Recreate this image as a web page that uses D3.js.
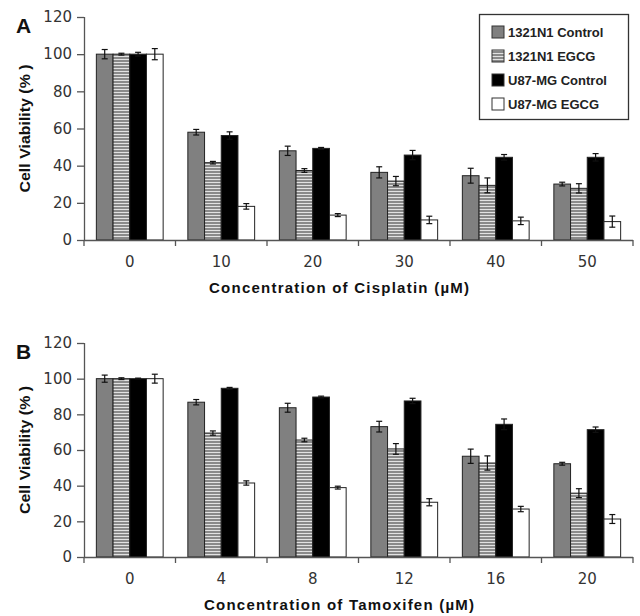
<!DOCTYPE html>
<html><head><meta charset="utf-8">
<script src="https://cdn.jsdelivr.net/npm/d3@7"></script>
<style>body{margin:0;background:#fff}svg{display:block}</style>
</head><body>
<svg id="c" width="640" height="616"></svg>
<script>
const series = ["1321N1 Control", "1321N1 EGCG", "U87-MG Control", "U87-MG EGCG"];
const yTicks = [0, 20, 40, 60, 80, 100, 120];

// Panel A – Cisplatin
const catsA = ["0", "10", "20", "30", "40", "50"];
const ctrl1321A = [100, 58, 48, 36.4, 34.6, 30.1];
const egcg1321A = [100, 41.6, 37.4, 31.7, 29.4, 27.8];
const ctrlU87A  = [100, 56.2, 49.3, 45.7, 44.5, 44.5];
const egcgU87A  = [100, 18.1, 13.4, 10.8, 10.3, 9.9];
const errCtrl1321A = [2.5, 1.5, 2.5, 3, 4, 1];
const errEgcg1321A = [0.5, 0.7, 1, 2.5, 4, 2.5];
const errCtrlU87A  = [1, 2, 0.5, 2.5, 1.5, 2];
const errEgcgU87A  = [3, 1.5, 0.8, 2, 2, 3];

// Panel B – Tamoxifen
const catsB = ["0", "4", "8", "12", "16", "20"];
const ctrl1321B = [100, 86.8, 83.7, 73.1, 56.5, 52.3];
const egcg1321B = [100, 69.5, 65.6, 60.6, 52.7, 35.8];
const ctrlU87B  = [100, 94.6, 89.7, 87.5, 74.4, 71.4];
const egcgU87B  = [100, 41.5, 38.9, 30.7, 26.9, 21.3];
const errCtrl1321B = [2, 1.5, 2.5, 3, 4, 0.8];
const errEgcg1321B = [0.5, 1.2, 1, 3, 4, 2.5];
const errCtrlU87B  = [0.3, 0.5, 0.5, 1.5, 3, 1.5];
const errEgcgU87B  = [2.5, 1.2, 0.8, 2, 1.5, 2.5];

const svg = d3.select("#c");
const defs = svg.append("defs");
const pat = defs.append("pattern").attr("id", "stripe")
  .attr("patternUnits", "userSpaceOnUse").attr("width", 4).attr("height", 3);
pat.append("rect").attr("width", 4).attr("height", 3).attr("fill", "#e2e2e2");
pat.append("rect").attr("width", 4).attr("height", 2).attr("fill", "#8a8a8a");

const fills = ["#808080", "url(#stripe)", "#000000", "#ffffff"];
const axisColor = "#555";
const tickFont = "'DejaVu Sans', sans-serif";
const boldFont = "'Liberation Sans', Arial, sans-serif";

function panel(cfg) {
  const left = 84, right = 633;
  const { top, bottom, cats, vals, errs, letter, title, titleLen } = cfg;
  const x = d3.scaleBand().domain(cats).range([left, right]).paddingInner(0.27).paddingOuter(0.135);
  const xs = d3.scaleBand().domain(series).range([0, x.bandwidth()]).padding(0);
  const y = d3.scaleLinear().domain([0, 120]).range([bottom, top]);
  const g = svg.append("g");

  cats.forEach((c, i) => {
    series.forEach((s, j) => {
      const v = vals[j][i], e = errs[j][i];
      const bx = x(c) + xs(s), bw = xs.bandwidth();
      g.append("rect").attr("x", bx).attr("y", y(v))
        .attr("width", bw).attr("height", y(0) - y(v))
        .attr("fill", fills[j]).attr("stroke", "#222").attr("stroke-width", 1);
      const cx = bx + bw / 2;
      const eg = g.append("g").attr("stroke", "#111").attr("stroke-width", 1.2);
      eg.append("line").attr("x1", cx).attr("x2", cx).attr("y1", y(v + e)).attr("y2", y(v - e));
      eg.append("line").attr("x1", cx - 3).attr("x2", cx + 3).attr("y1", y(v + e)).attr("y2", y(v + e));
      eg.append("line").attr("x1", cx - 3).attr("x2", cx + 3).attr("y1", y(v - e)).attr("y2", y(v - e));
    });
  });

  const ya = g.append("g").attr("transform", `translate(${left},0)`)
    .call(d3.axisLeft(y).tickValues(yTicks).tickSize(7).tickPadding(5));
  ya.selectAll("path,line").attr("stroke", axisColor).attr("stroke-width", 1.3);
  ya.select("path").attr("d", `M0.5,${top}V${bottom}`);
  ya.selectAll("text").attr("font-family", tickFont).attr("font-size", 15).attr("fill", "#333");

  const bounds = d3.range(cats.length + 1).map(i => left + i * (right - left) / cats.length);
  const xa = g.append("g");
  xa.append("line").attr("x1", left).attr("x2", right).attr("y1", bottom + 0.5).attr("y2", bottom + 0.5)
    .attr("stroke", axisColor).attr("stroke-width", 1.3);
  bounds.forEach(b => xa.append("line").attr("x1", b).attr("x2", b).attr("y1", bottom).attr("y2", bottom + 6)
    .attr("stroke", axisColor).attr("stroke-width", 1.3));
  cats.forEach(c => xa.append("text").attr("x", x(c) + x.bandwidth() / 2).attr("y", bottom + 27)
    .attr("text-anchor", "middle").attr("font-family", tickFont).attr("font-size", 15).attr("fill", "#333").text(c));

  g.append("text").attr("x", 339).attr("y", bottom + 53).attr("text-anchor", "middle")
    .attr("font-family", boldFont).attr("font-weight", "bold").attr("font-size", 15)
    .attr("textLength", titleLen).attr("lengthAdjust", "spacing").attr("fill", "#111").text(title);
  g.append("text").attr("transform", `translate(30,${(top + bottom) / 2}) rotate(-90)`)
    .attr("text-anchor", "middle").attr("font-family", boldFont).attr("font-weight", "bold")
    .attr("font-size", 15).attr("textLength", 128).attr("lengthAdjust", "spacingAndGlyphs")
    .attr("fill", "#111").text("Cell Viability (% )");
  g.append("text").attr("x", 16).attr("y", top + 16).attr("font-family", boldFont)
    .attr("font-weight", "bold").attr("font-size", 21).attr("fill", "#111").text(letter);
}

panel({ top: 17, bottom: 240, cats: catsA,
  vals: [ctrl1321A, egcg1321A, ctrlU87A, egcgU87A],
  errs: [errCtrl1321A, errEgcg1321A, errCtrlU87A, errEgcgU87A],
  letter: "A", title: "Concentration of Cisplatin (µM)", titleLen: 260 });
panel({ top: 343, bottom: 557, cats: catsB,
  vals: [ctrl1321B, egcg1321B, ctrlU87B, egcgU87B],
  errs: [errCtrl1321B, errEgcg1321B, errCtrlU87B, errEgcgU87B],
  letter: "B", title: "Concentration of Tamoxifen (µM)", titleLen: 270 });

const lg = svg.append("g");
lg.append("rect").attr("x", 479.5).attr("y", 14.5).attr("width", 149).attr("height", 105)
  .attr("fill", "#fff").attr("stroke", "#333").attr("stroke-width", 1.3);
series.forEach((s, i) => {
  const cy = 32 + i * 24;
  lg.append("rect").attr("x", 492).attr("y", cy - 6).attr("width", 12).attr("height", 12)
    .attr("fill", fills[i]).attr("stroke", "#333").attr("stroke-width", 1);
  lg.append("text").attr("x", 508).attr("y", cy + 5).attr("font-family", boldFont)
    .attr("font-weight", "bold").attr("font-size", 13).attr("fill", "#222").text(s);
});
</script>
</body></html>
